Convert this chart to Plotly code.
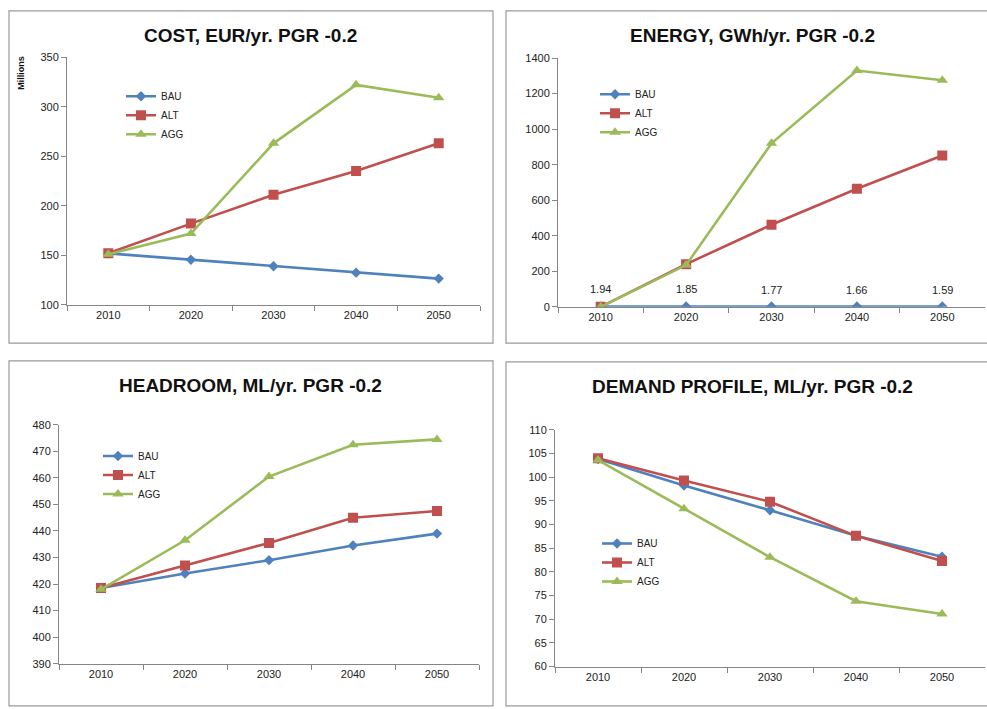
import plotly.graph_objects as go

W, H = 987, 709

years = ["2010", "2020", "2030", "2040", "2050"]
series_names = ["BAU", "ALT", "AGG"]

cost_bau = [152, 145.5, 139, 132.5, 126.5]
cost_alt = [152, 182, 211, 235, 263]
cost_agg = [151, 172, 263, 322, 309]

energy_bau = [1.94, 1.85, 1.77, 1.66, 1.59]
energy_alt = [0, 240, 462, 665, 852]
energy_agg = [0, 235, 920, 1330, 1275]

head_bau = [418.5, 424, 429, 434.5, 439]
head_alt = [418.5, 427, 435.5, 445, 447.5]
head_agg = [418, 436.5, 460.5, 472.5, 474.5]

dem_bau = [103.8, 98.2, 93.0, 87.6, 83.2]
dem_alt = [104, 99.3, 94.8, 87.6, 82.3]
dem_agg = [103.6, 93.3, 83.1, 73.8, 71.1]

titles = ["COST, EUR/yr. PGR -0.2", "ENERGY, GWh/yr. PGR -0.2",
          "HEADROOM, ML/yr. PGR -0.2", "DEMAND PROFILE, ML/yr. PGR -0.2"]

colors = {"BAU": "#4F81BD", "ALT": "#C0504D", "AGG": "#9BBB59"}
symbols = {"BAU": "diamond", "ALT": "square", "AGG": "triangle-up"}
msize = {"BAU": 8, "ALT": 10, "AGG": 10}

FONT = "Liberation Sans"


def px(x):
    return x / W


def py(y):
    return 1 - y / H


panels = [
    dict(data=[cost_bau, cost_alt, cost_agg], title=titles[0],
         xd=(67, 480), yd=(52, 304), yr=(100, 350), dt=50,
         border=(9, 5, 493, 343), tpos=(250, 30), leg=(121, 77)),
    dict(data=[energy_bau, energy_alt, energy_agg], title=titles[1],
         xd=(558, 985), yd=(53, 306), yr=(0, 1400), dt=200,
         border=(506, 5, 992, 343), tpos=(752, 30), leg=(595, 75)),
    dict(data=[head_bau, head_alt, head_agg], title=titles[2],
         xd=(59, 479), yd=(426, 669), yr=(390, 480), dt=10,
         border=(9, 361, 493, 712), tpos=(250, 386), leg=(98, 443)),
    dict(data=[dem_bau, dem_alt, dem_agg], title=titles[3],
         xd=(555, 985), yd=(431, 672), yr=(60, 110), dt=5,
         border=(506, 362, 992, 712), tpos=(752, 387), leg=(597, 532)),
]

fig = go.Figure()
layout = dict(width=W, height=H, margin=dict(l=0, r=0, t=0, b=0),
              paper_bgcolor="white", plot_bgcolor="white",
              font=dict(family=FONT, color="#222"), shapes=[], annotations=[],
              showlegend=True)

for i, p in enumerate(panels):
    k = "" if i == 0 else str(i + 1)
    legname = "legend" if i == 0 else "legend" + str(i + 1)
    for name, vals in zip(series_names, p["data"]):
        tr = dict(x=years, y=vals, name=name, mode="lines+markers",
                  line=dict(color=colors[name], width=2.6),
                  marker=dict(symbol=symbols[name], size=msize[name], color=colors[name]),
                  xaxis="x" + k, yaxis="y" + k, legend=legname)
        fig.add_trace(go.Scatter(**tr))
        if i == 1 and name == "BAU":
            for j, yv in enumerate(vals):
                layout["annotations"].append(dict(
                    x=j, y=yv, xref="x" + k, yref="y" + k, text="%.2f" % yv,
                    showarrow=False, xanchor="center", yanchor="bottom", yshift=9,
                    font=dict(size=11, color="#222")))

    layout["xaxis" + k] = dict(
        domain=[px(p["xd"][0]), px(p["xd"][1])], anchor="y" + k, type="category",
        range=[-0.5, 4.5], tickson="boundaries", ticks="outside", ticklen=5,
        tickcolor="#868686", showline=True, linecolor="#868686", linewidth=1,
        showgrid=False, zeroline=False, tickfont=dict(size=11, color="#222"),
        fixedrange=True)
    layout["yaxis" + k] = dict(
        domain=[py(p["yd"][1]), py(p["yd"][0])], anchor="x" + k,
        range=list(p["yr"]), dtick=p["dt"], tick0=p["yr"][0], ticks="outside", ticklen=5,
        tickcolor="#868686", showline=True, linecolor="#868686", linewidth=1,
        showgrid=False, zeroline=False, tickfont=dict(size=11, color="#222"),
        fixedrange=True)
    layout[legname] = dict(x=px(p["leg"][0]), y=py(p["leg"][1]), xanchor="left",
                           yanchor="top", bgcolor="rgba(0,0,0,0)",
                           font=dict(size=10, color="#222"), itemwidth=30,
                           tracegroupgap=0)
    b = p["border"]
    layout["shapes"].append(dict(type="rect", xref="paper", yref="paper",
                                 x0=px(b[0]), x1=px(b[2]), y0=py(b[3]), y1=py(b[1]),
                                 line=dict(color="#9a9a9a", width=1.2)))
    layout["annotations"].append(dict(text="<b>" + p["title"] + "</b>", xref="paper", yref="paper",
                                      x=px(p["tpos"][0]), y=py(p["tpos"][1]),
                                      xanchor="center", yanchor="middle", showarrow=False,
                                      font=dict(size=19, family=FONT, color="#111")))

layout["annotations"].append(dict(text="<b>Millions</b>", xref="paper", yref="paper",
                                  x=px(21), y=py(68), textangle=-90, showarrow=False,
                                  xanchor="center", yanchor="middle",
                                  font=dict(size=9, color="#111")))

fig.update_layout(**layout)
fig.write_html("out.html", config={"displayModeBar": False},
               post_script="document.body.style.margin='0px';document.body.style.overflow='hidden';")
